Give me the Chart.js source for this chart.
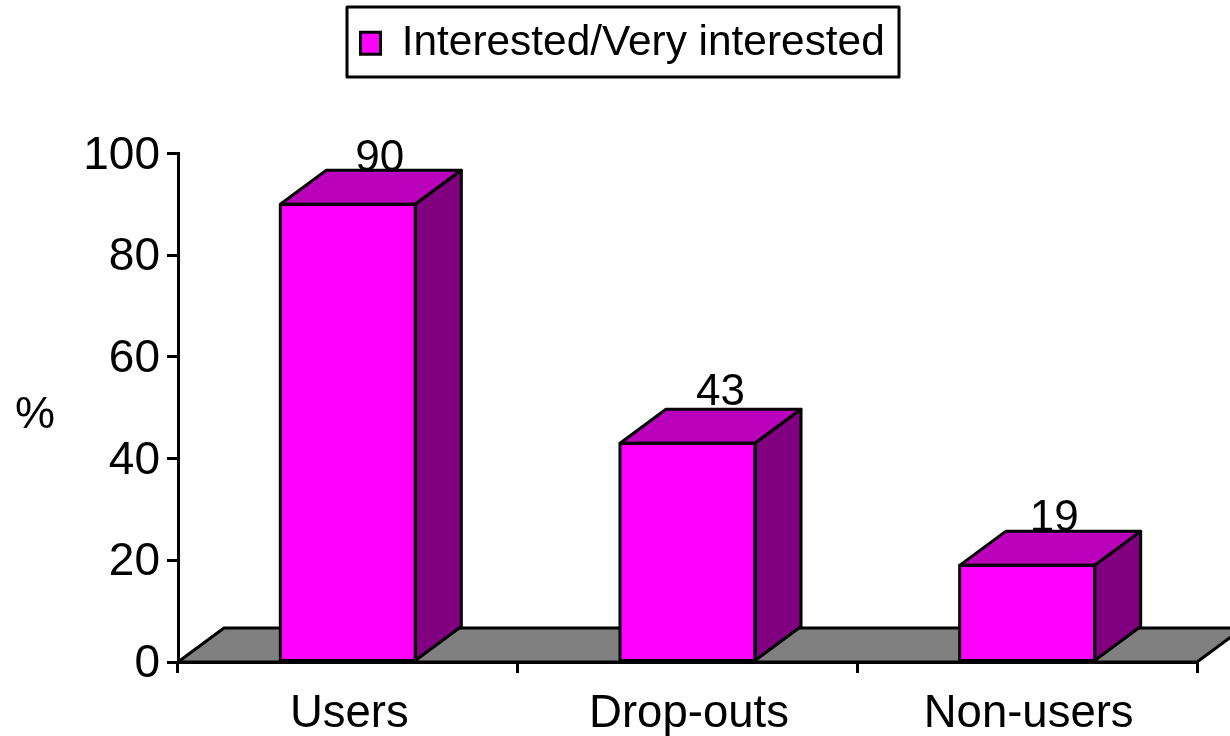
<!DOCTYPE html>
<html lang="en">

<head>
    <meta charset="UTF-8">
    <title>Interested/Very interested</title>
    <script src="https://cdn.jsdelivr.net/npm/chart.js"></script>
    <style>
        body { margin: 0; background: white; }
        canvas { display: block; }
    </style>
</head>

<body>
    <canvas id="grafico" width="1230" height="736"></canvas>

    <script>
        const categories = ['Users', 'Drop-outs', 'Non-users'];
        const interested = [90, 43, 19];
        const yTicks = [0, 20, 40, 60, 80, 100];
        const seriesName = 'Interested/Very interested';
        const yUnit = '%';

        const fonte = 'Liberation Sans, Arial, sans-serif';
        const depthX = 46;
        const depthY = 34;
        // the value labels are not placed evenly in the original
        const labelShiftX = [32, 33, 27];
        const labelShiftY = [33, 38, 34];

        function face(ctx, points, color) {
            ctx.beginPath();
            points.forEach((p, i) => i ? ctx.lineTo(p[0], p[1]) : ctx.moveTo(p[0], p[1]));
            ctx.closePath();
            ctx.fillStyle = color;
            ctx.fill();
            ctx.stroke();
        }

        // floor, bar depth and value labels: Chart.js has no 3D bars
        const bars3d = {
            id: 'bars3d',
            afterLayout(chart) {
                // legend box sits a little right of centre in the original
                const legend = chart.legend;
                legend.left = 345.5;
                legend.right = 899;
                legend.top = 7;
                legend.bottom = 77;
            },
            beforeDraw(chart) {
                // y tick labels sit slightly lower than canvas 'middle'
                chart.scales.y.getLabelItems().forEach(item => {
                    item.options.translation[1] = chart.scales.y.getPixelForValue(Number(item.label)) + 2.5;
                });
            },
            beforeDatasetsDraw(chart) {
                const { ctx, chartArea } = chart;
                const { left, right, bottom } = chartArea;
                ctx.save();
                ctx.strokeStyle = 'black';
                ctx.lineWidth = 3;
                ctx.lineJoin = 'round';
                face(ctx, [
                    [left, bottom],
                    [left + depthX, bottom - depthY],
                    [right + depthX, bottom - depthY],
                    [right, bottom]
                ], '#808080');
                ctx.restore();
            },
            afterDatasetsDraw(chart) {
                const { ctx } = chart;
                const bars = chart.getDatasetMeta(0).data;
                ctx.save();
                ctx.strokeStyle = 'black';
                ctx.lineWidth = 3;
                ctx.lineJoin = 'round';
                bars.forEach(bar => {
                    const l = bar.x - bar.width / 2;
                    const r = bar.x + bar.width / 2;
                    face(ctx, [
                        [l, bar.y],
                        [l + depthX, bar.y - depthY],
                        [r + depthX, bar.y - depthY],
                        [r, bar.y]
                    ], '#BB00BB');
                    face(ctx, [
                        [r, bar.y],
                        [r + depthX, bar.y - depthY],
                        [r + depthX, bar.base - depthY],
                        [r, bar.base]
                    ], '#800080');
                    // front face outline again, the depth faces cover half of it
                    ctx.strokeRect(l, bar.y, bar.width, bar.base - bar.y);
                });

                ctx.fillStyle = 'black';
                ctx.textAlign = 'center';
                ctx.textBaseline = 'alphabetic';
                ctx.font = '44px ' + fonte;
                bars.forEach((bar, i) => {
                    ctx.fillText(interested[i], bar.x + labelShiftX[i], bar.y - labelShiftY[i]);
                });

                ctx.font = '45px ' + fonte;
                ctx.fillText(yUnit, 35, 428);

                // legend frame
                const legend = chart.legend;
                ctx.strokeRect(347, legend.top, legend.right - 347, legend.bottom - legend.top);
                ctx.restore();
            }
        };

        new Chart(document.getElementById('grafico').getContext('2d'), {
            type: 'bar',
            data: {
                labels: categories,
                datasets: [{
                    label: seriesName,
                    data: interested,
                    backgroundColor: '#FF00FF',
                    borderColor: 'black',
                    borderWidth: 0,
                    borderSkipped: false,
                    barPercentage: 0.3975,
                    categoryPercentage: 1
                }]
            },
            options: {
                responsive: false,
                animation: false,
                layout: { padding: { top: 86, right: 33, left: 0, bottom: 0 } },
                scales: {
                    x: {
                        afterFit(scale) { scale.height = 74; },
                        border: { color: 'black', width: 3 },
                        grid: { drawOnChartArea: false, color: 'black', lineWidth: 3, tickLength: 11 },
                        ticks: { color: 'black', padding: 14, maxRotation: 0, labelOffset: 1.5, font: { family: fonte, size: 45.5 } }
                    },
                    y: {
                        min: 0,
                        max: 100,
                        afterFit(scale) { scale.width = 178; },
                        afterBuildTicks(scale) { scale.ticks = yTicks.map(value => ({ value })); },
                        border: { color: 'black', width: 3 },
                        grid: { drawOnChartArea: false, color: 'black', lineWidth: 3, tickLength: 11 },
                        ticks: { color: 'black', padding: 7, font: { family: fonte, size: 46 } }
                    }
                },
                plugins: {
                    tooltip: { enabled: false },
                    legend: {
                        position: 'top',
                        align: 'start',
                        labels: {
                            color: 'black',
                            boxWidth: 20,
                            boxHeight: 22,
                            padding: 15,
                            font: { family: fonte, size: 42.4 },
                            generateLabels(chart) {
                                return Chart.defaults.plugins.legend.labels.generateLabels(chart).map(item => {
                                    item.lineWidth = 3;
                                    item.strokeStyle = 'black';
                                    return item;
                                });
                            }
                        }
                    }
                }
            },
            plugins: [bars3d]
        });
    </script>
</body>

</html>
